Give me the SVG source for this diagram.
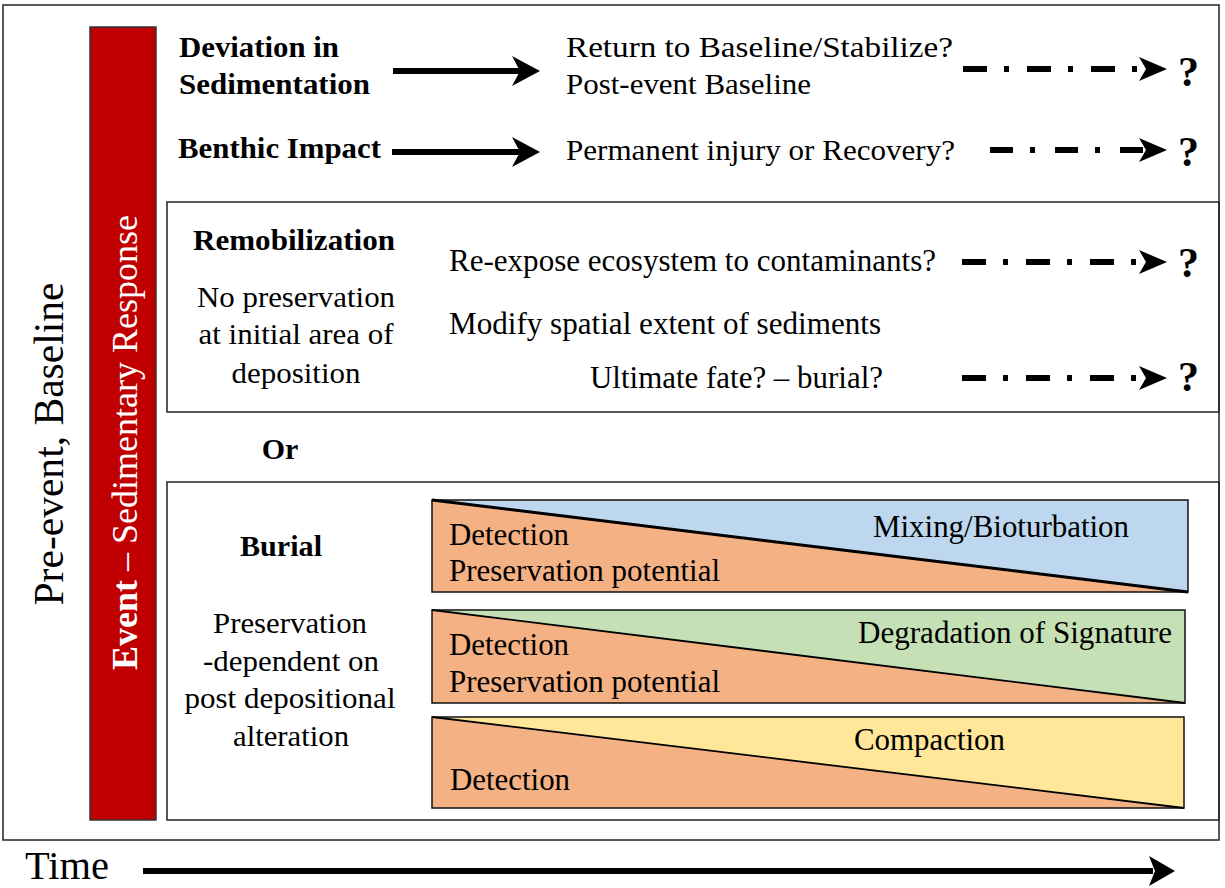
<svg xmlns="http://www.w3.org/2000/svg" width="1225" height="888" viewBox="0 0 1225 888">
<style>
  text { font-family: "Liberation Serif", "Times New Roman", serif; fill: #000; }
  .b { font-weight: bold; }
  .t30 { font-size: 30px; }
  .t31 { font-size: 31px; }
  .p { font-size: 32px; }
  .q { font-size: 42px; font-weight: bold; }
  .frame { fill: #fff; stroke: #222; stroke-width: 1.5; }
  .panel { stroke: #111; stroke-width: 1.5; }
  .solid { stroke: #000; stroke-width: 6; fill: none; }
  .dd { stroke: #000; stroke-width: 6; fill: none; stroke-dasharray: 24 17 5 18; }
  .org { fill: #F4B183; }
</style>
<defs>
  <marker id="stealth" markerUnits="userSpaceOnUse" viewBox="0 0 28 30" markerWidth="28" markerHeight="30" refX="13" refY="15" orient="auto">
    <path d="M0,0 L28,15 L0,30 L8,15 Z" fill="#000"/>
  </marker>
  <marker id="stealthS" markerUnits="userSpaceOnUse" viewBox="0 0 28 24" markerWidth="28" markerHeight="24" refX="8" refY="12" orient="auto">
    <path d="M0,0 L28,12 L0,24 L7,12 Z" fill="#000"/>
  </marker>
  <marker id="timeHead" markerUnits="userSpaceOnUse" viewBox="0 0 26 30" markerWidth="26" markerHeight="30" refX="4" refY="15" orient="auto">
    <path d="M0,0 L26,15 L0,30 L6,15 Z" fill="#000"/>
  </marker>
</defs>

<rect id="outer-frame" x="3" y="5" width="1216" height="835" class="frame"/>

<g id="event-bar">
  <rect x="90" y="27" width="66" height="793" fill="#C00000" stroke="#333" stroke-width="1.5"/>
  <text transform="translate(137,670) rotate(-90)" style="font-size:36px;fill:#fff"><tspan class="b" style="fill:#fff">Event</tspan><tspan style="fill:#fff"> – Sedimentary Response</tspan></text>
</g>

<g id="baseline-label">
  <text transform="translate(63,444) rotate(-90)" text-anchor="middle" style="font-size:42px" textLength="323" lengthAdjust="spacingAndGlyphs">Pre-event, Baseline</text>
</g>

<g id="deviation">
  <text x="179" y="57" class="b t30" textLength="160" lengthAdjust="spacingAndGlyphs">Deviation in</text>
  <text x="179" y="94" class="b t30" textLength="191" lengthAdjust="spacingAndGlyphs">Sedimentation</text>
</g>
<g id="return-baseline">
  <text x="566" y="57" class="t30" textLength="387" lengthAdjust="spacingAndGlyphs">Return to Baseline/Stabilize?</text>
  <text x="566" y="94" class="t30" textLength="245" lengthAdjust="spacingAndGlyphs">Post-event Baseline</text>
</g>
<g id="q1"><text x="1178" y="86" class="q">?</text></g>

<g id="benthic">
  <text x="178" y="158" class="b t30" textLength="203" lengthAdjust="spacingAndGlyphs">Benthic Impact</text>
</g>
<g id="permanent">
  <text x="566" y="160" class="t30" textLength="389" lengthAdjust="spacingAndGlyphs">Permanent injury or Recovery?</text>
</g>
<g id="q2"><text x="1178" y="166" class="q">?</text></g>

<g id="remobilization-box">
  <rect x="167" y="202" width="1052" height="210" fill="none" stroke="#222" stroke-width="1.5"/>
  <text x="294" y="250" text-anchor="middle" class="b t30" textLength="202" lengthAdjust="spacingAndGlyphs">Remobilization</text>
  <text x="296" y="307" text-anchor="middle" class="t30" textLength="198" lengthAdjust="spacingAndGlyphs">No preservation</text>
  <text x="296" y="344" text-anchor="middle" class="t30" textLength="195" lengthAdjust="spacingAndGlyphs">at initial area of</text>
  <text x="296" y="383" text-anchor="middle" class="t30" textLength="129" lengthAdjust="spacingAndGlyphs">deposition</text>
  <text x="449" y="271" class="t31" textLength="487" lengthAdjust="spacingAndGlyphs">Re-expose ecosystem to contaminants?</text>
  <text x="449" y="334" class="t31" textLength="432" lengthAdjust="spacingAndGlyphs">Modify spatial extent of sediments</text>
  <text x="590" y="388" class="t31" textLength="293" lengthAdjust="spacingAndGlyphs">Ultimate fate? – burial?</text>
  <text x="1178" y="277" class="q">?</text>
  <text x="1178" y="391" class="q">?</text>
</g>

<g id="or-label">
  <text x="280" y="459" text-anchor="middle" class="b t30">Or</text>
</g>

<g id="burial-box">
  <rect x="167" y="482" width="1052" height="338" fill="none" stroke="#222" stroke-width="1.5"/>
  <text x="281" y="556" text-anchor="middle" class="b t30" textLength="82" lengthAdjust="spacingAndGlyphs">Burial</text>
  <text x="290" y="633" text-anchor="middle" class="t30" textLength="154" lengthAdjust="spacingAndGlyphs">Preservation</text>
  <text x="291" y="671" text-anchor="middle" class="t30" textLength="176" lengthAdjust="spacingAndGlyphs">-dependent on</text>
  <text x="290" y="708" text-anchor="middle" class="t30" textLength="211" lengthAdjust="spacingAndGlyphs">post depositional</text>
  <text x="291" y="746" text-anchor="middle" class="t30" textLength="116" lengthAdjust="spacingAndGlyphs">alteration</text>
</g>

<g id="panel-mixing">
  <polygon points="432,500 1188,500 1188,592" fill="#BDD7EE"/>
  <polygon points="432,500 432,592 1188,592" class="org"/>
  <rect x="432" y="500" width="756" height="92" fill="none" class="panel"/>
  <line x1="432" y1="500" x2="1188" y2="592" stroke="#000" stroke-width="3"/>
  <text x="449" y="545" class="p" textLength="120" lengthAdjust="spacingAndGlyphs">Detection</text>
  <text x="449" y="581" class="p" textLength="271" lengthAdjust="spacingAndGlyphs">Preservation potential</text>
  <text x="873" y="537" class="p" textLength="256" lengthAdjust="spacingAndGlyphs">Mixing/Bioturbation</text>
</g>

<g id="panel-degradation">
  <polygon points="432,610 1185,610 1185,703" fill="#C5E0B4"/>
  <polygon points="432,610 432,703 1185,703" class="org"/>
  <rect x="432" y="610" width="753" height="93" fill="none" class="panel"/>
  <line x1="432" y1="610" x2="1185" y2="703" stroke="#000" stroke-width="1.8"/>
  <text x="449" y="655" class="p" textLength="120" lengthAdjust="spacingAndGlyphs">Detection</text>
  <text x="449" y="692" class="p" textLength="271" lengthAdjust="spacingAndGlyphs">Preservation potential</text>
  <text x="858" y="643" class="p" textLength="314" lengthAdjust="spacingAndGlyphs">Degradation of Signature</text>
</g>

<g id="panel-compaction">
  <polygon points="432,717 1184,717 1184,808" fill="#FFE699"/>
  <polygon points="432,717 432,808 1184,808" class="org"/>
  <rect x="432" y="717" width="752" height="91" fill="none" class="panel"/>
  <line x1="432" y1="717" x2="1184" y2="808" stroke="#000" stroke-width="1.8"/>
  <text x="854" y="750" class="p" textLength="151" lengthAdjust="spacingAndGlyphs">Compaction</text>
  <text x="450" y="790" class="p" textLength="120" lengthAdjust="spacingAndGlyphs">Detection</text>
</g>

<g id="time-label">
  <text x="25" y="879" style="font-size:40px" textLength="84" lengthAdjust="spacingAndGlyphs">Time</text>
</g>

<g id="connectors">
  <line x1="393" y1="71" x2="525" y2="71" class="solid" marker-end="url(#stealth)"/>
  <line x1="392" y1="152" x2="525" y2="152" class="solid" marker-end="url(#stealth)"/>
  <line x1="963" y1="69" x2="1147" y2="69" class="dd" marker-end="url(#stealthS)"/>
  <line x1="990" y1="150" x2="1147" y2="150" class="dd" style="stroke-dasharray:23 17 5 20" marker-end="url(#stealthS)"/>
  <line x1="962" y1="262" x2="1147" y2="262" class="dd" marker-end="url(#stealthS)"/>
  <line x1="962" y1="378" x2="1147" y2="378" class="dd" marker-end="url(#stealthS)"/>
  <line x1="143" y1="871" x2="1153" y2="871" stroke="#000" stroke-width="6" marker-end="url(#timeHead)"/>
</g>
</svg>
